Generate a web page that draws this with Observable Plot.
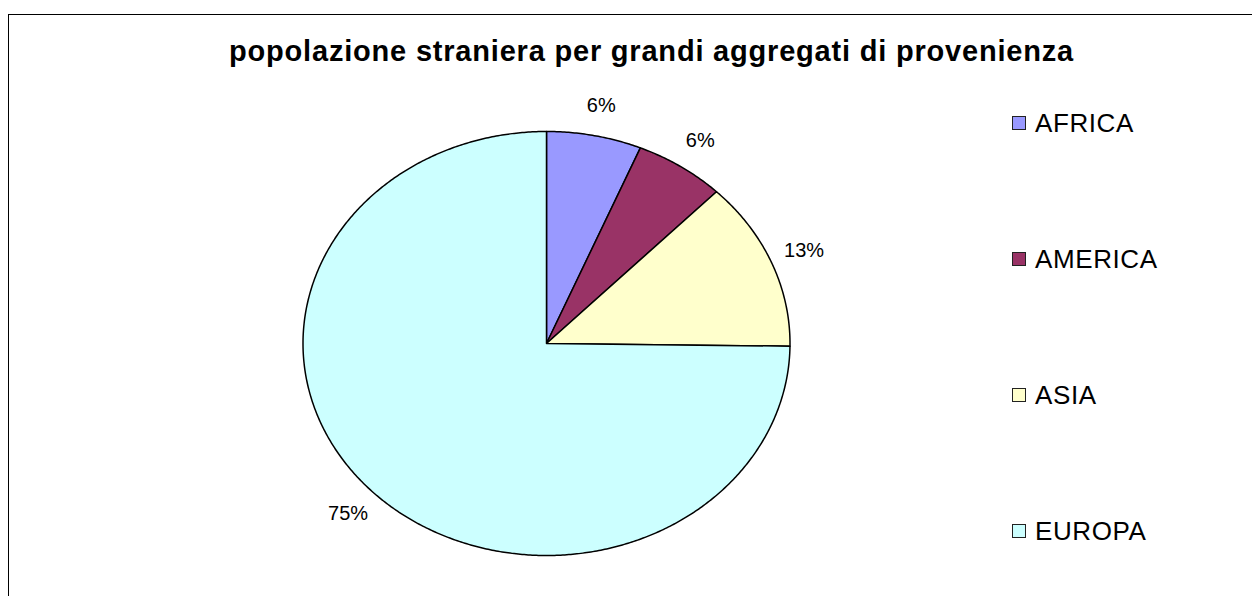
<!DOCTYPE html>
<html><head><meta charset="utf-8">
<script src="https://cdn.jsdelivr.net/npm/d3@7"></script>
<script src="https://cdn.jsdelivr.net/npm/@observablehq/plot@0.6"></script>
<style>
html,body{margin:0;padding:0;background:#fff;}
#wrap{position:relative;width:1252px;height:596px;overflow:hidden;font-family:"Liberation Sans",Arial,sans-serif;}
#border{position:absolute;left:8px;top:14px;width:1400px;height:800px;border-left:1.5px solid #000;border-top:1.5px solid #000;}
#chart{position:absolute;left:0;top:0;}
.leg{position:absolute;left:1012px;height:30px;display:flex;align-items:center;font-size:26px;letter-spacing:0.6px;color:#000;}
.sw{width:12px;height:12px;border:1.5px solid #222;margin-right:9px;flex:none;}
</style></head>
<body>
<div id="wrap"><div id="border"></div><div id="chart"></div><div id="legend"></div></div>
<script>
const title = "popolazione straniera per grandi aggregati di provenienza";
const categories = ["AFRICA", "AMERICA", "ASIA", "EUROPA"];
const values = [6.3, 6.0, 12.9, 74.8];

const colors = ["#9999FF", "#993366", "#FFFFCC", "#CCFFFF"];
const cx = 546, cy = 343, rx = 243.5, ry = 212;

const total = d3.sum(values);
const arcs = d3.pie().sort(null).value(d => d.v)(categories.map((c, i) => ({c, v: values[i]})));

const pts = [];
for (const a of arcs) {
  const n = Math.max(4, Math.ceil((a.endAngle - a.startAngle) * 120));
  pts.push({c: a.data.c, x: 0, y: 0});
  for (let k = 0; k <= n; k++) {
    const t = a.startAngle + (a.endAngle - a.startAngle) * k / n;
    pts.push({c: a.data.c, x: Math.sin(t), y: Math.cos(t)});
  }
}
const labels = arcs.map(a => {
  const m = (a.startAngle + a.endAngle) / 2;
  return {x: 1.145 * Math.sin(m), y: 1.145 * Math.cos(m), t: Math.round(a.data.v / total * 100) + "%"};
});

const plot = Plot.plot({
  width: 1252, height: 596, margin: 0,
  style: {background: "transparent", fontFamily: "'Liberation Sans', Arial, sans-serif", overflow: "visible"},
  x: {domain: [-1, 1], range: [cx - rx, cx + rx], axis: null},
  y: {domain: [-1, 1], range: [cy + ry, cy - ry], axis: null},
  color: {domain: categories, range: colors},
  marks: [
    Plot.line(pts, {x: "x", y: "y", z: "c", fill: "c", stroke: "#000", strokeWidth: 1.5, curve: "linear-closed"}),
    Plot.text(labels, {x: "x", y: "y", text: "t", fontSize: 20, fill: "#000"}),
    Plot.text([title], {frameAnchor: "top", dx: 25, dy: 60, text: d => d, fontSize: 29, fontWeight: "bold", fill: "#000", lineAnchor: "bottom"})
  ]
});
plot.querySelectorAll("text").forEach(t => { if (t.textContent === title) t.style.letterSpacing = "0.8px"; });
document.getElementById("chart").appendChild(plot);

const leg = document.getElementById("legend");
categories.forEach((c, i) => {
  const d = document.createElement("div");
  d.className = "leg";
  d.style.top = (123 + i * 136 - 15) + "px";
  d.innerHTML = `<span class="sw" style="background:${colors[i]}"></span><span>${c}</span>`;
  leg.appendChild(d);
});
</script>
</body></html>
